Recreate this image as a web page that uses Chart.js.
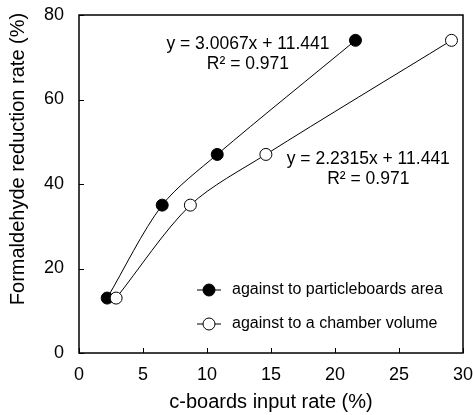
<!DOCTYPE html>
<html>
<head>
<meta charset="utf-8">
<script src="https://cdn.jsdelivr.net/npm/chart.js@4"></script>
<style>
  html, body { margin: 0; padding: 0; background: #fff; }
  #wrap { width: 473px; height: 415px; }
</style>
</head>
<body>
<div id="wrap"><canvas id="chart" width="473" height="415"></canvas></div>
<script>
// données
const areaX = [2.2, 6.5, 10.8, 21.6];
const areaY = [13, 35, 47, 74];
const volumeX = [2.9, 8.7, 14.6, 29.1];
const volumeY = [13, 35, 47, 74];
const seriesLabels = ["against to particleboards area", "against to a chamber volume"];
const eqArea = ["y = 3.0067x + 11.441", "R² = 0.971"];
const eqVolume = ["y = 2.2315x + 11.441", "R² = 0.971"];

const FONT = "'Liberation Sans', Arial, sans-serif";

// cadre + graduations intérieures
const framePlugin = {
  id: "frame",
  afterDraw(chart) {
    const { ctx, chartArea: a, scales } = chart;
    ctx.save();
    ctx.strokeStyle = "#000";
    ctx.lineWidth = 1;
    scales.x.ticks.forEach(t => {
      const px = Math.round(scales.x.getPixelForValue(t.value)) + 0.5;
      ctx.beginPath(); ctx.moveTo(px, a.bottom); ctx.lineTo(px, a.bottom - 5); ctx.stroke();
    });
    scales.y.ticks.forEach(t => {
      const py = Math.round(scales.y.getPixelForValue(t.value)) + 0.5;
      ctx.beginPath(); ctx.moveTo(a.left, py); ctx.lineTo(a.left + 5, py); ctx.stroke();
    });
    ctx.lineWidth = 1.5;
    ctx.strokeRect(a.left, a.top, a.right - a.left, a.bottom - a.top);
    ctx.restore();
  }
};

// titre de l'axe y, décalé vers le haut comme sur l'original
const yTitlePlugin = {
  id: "yTitle",
  afterDraw(chart) {
    const { ctx } = chart;
    ctx.save();
    ctx.translate(18, 159);
    ctx.rotate(-Math.PI / 2);
    ctx.font = "20px " + FONT;
    ctx.fillStyle = "#000";
    ctx.textAlign = "center";
    ctx.textBaseline = "middle";
    ctx.fillText("Formaldehyde reduction rate (%)", 0, 0);
    ctx.restore();
  }
};

// équations de régression
const eqPlugin = {
  id: "equations",
  afterDatasetsDraw(chart) {
    const { ctx, scales } = chart;
    const put = (lines, x, y) => {
      const px = scales.x.getPixelForValue(x);
      const py = scales.y.getPixelForValue(y);
      lines.forEach((s, i) => ctx.fillText(s, px, py + i * 20));
    };
    ctx.save();
    ctx.font = "17.5px " + FONT;
    ctx.fillStyle = "#000";
    ctx.textAlign = "center";
    ctx.textBaseline = "middle";
    put(eqArea, 13.2, 73);
    put(eqVolume, 22.6, 45.8);
    ctx.restore();
  }
};

// légende dans la zone de tracé
const legendPlugin = {
  id: "innerLegend",
  afterDraw(chart) {
    const { ctx } = chart;
    ctx.save();
    chart.data.datasets.forEach((ds, i) => {
      const y = 290 + i * 34;
      ctx.strokeStyle = "#000";
      ctx.lineWidth = 1;
      ctx.beginPath(); ctx.moveTo(197, y); ctx.lineTo(221, y); ctx.stroke();
      ctx.beginPath(); ctx.arc(209, y, 6, 0, Math.PI * 2);
      ctx.fillStyle = ds.pointBackgroundColor; ctx.fill(); ctx.stroke();
      ctx.fillStyle = "#000";
      ctx.font = "16px " + FONT;
      ctx.textAlign = "left";
      ctx.textBaseline = "middle";
      ctx.fillText(ds.label, 232, y);
    });
    ctx.restore();
  }
};

new Chart(document.getElementById("chart"), {
  type: "line",
  data: {
    datasets: [
      {
        label: seriesLabels[0],
        data: areaX.map((x, i) => ({ x, y: areaY[i] })),
        borderColor: "#000",
        borderWidth: 1,
        pointBackgroundColor: "#000",
        pointBorderColor: "#000",
        pointBorderWidth: 1,
        pointRadius: 6,
        tension: 0.3,
        order: 2
      },
      {
        label: seriesLabels[1],
        data: volumeX.map((x, i) => ({ x, y: volumeY[i] })),
        borderColor: "#000",
        borderWidth: 1,
        pointBackgroundColor: "#fff",
        pointBorderColor: "#000",
        pointBorderWidth: 1,
        pointRadius: 6,
        tension: 0.3,
        order: 1
      }
    ]
  },
  options: {
    responsive: false,
    animation: false,
    events: [],
    layout: { padding: { top: 15, right: 10, left: 0, bottom: 0 } },
    plugins: { legend: { display: false }, tooltip: { enabled: false } },
    scales: {
      x: {
        type: "linear",
        min: 0, max: 30,
        ticks: { stepSize: 5, color: "#000", font: { size: 18, family: FONT }, padding: 11 },
        grid: { display: false, drawTicks: false },
        border: { display: false },
        title: { display: true, text: "c-boards input rate (%)", color: "#000", font: { size: 20, family: FONT }, padding: { top: 2, bottom: 1 } },
        afterFit(s) { s.height = 62; s.paddingLeft = 0; s.paddingRight = 0; }
      },
      y: {
        min: 0, max: 80,
        ticks: { stepSize: 20, color: "#000", font: { size: 18, family: FONT }, padding: 15 },
        grid: { display: false, drawTicks: false },
        border: { display: false },
        afterFit(s) { s.width = 79; s.paddingTop = 0; s.paddingBottom = 0; }
      }
    }
  },
  plugins: [framePlugin, yTitlePlugin, eqPlugin, legendPlugin]
});
</script>
</body>
</html>
